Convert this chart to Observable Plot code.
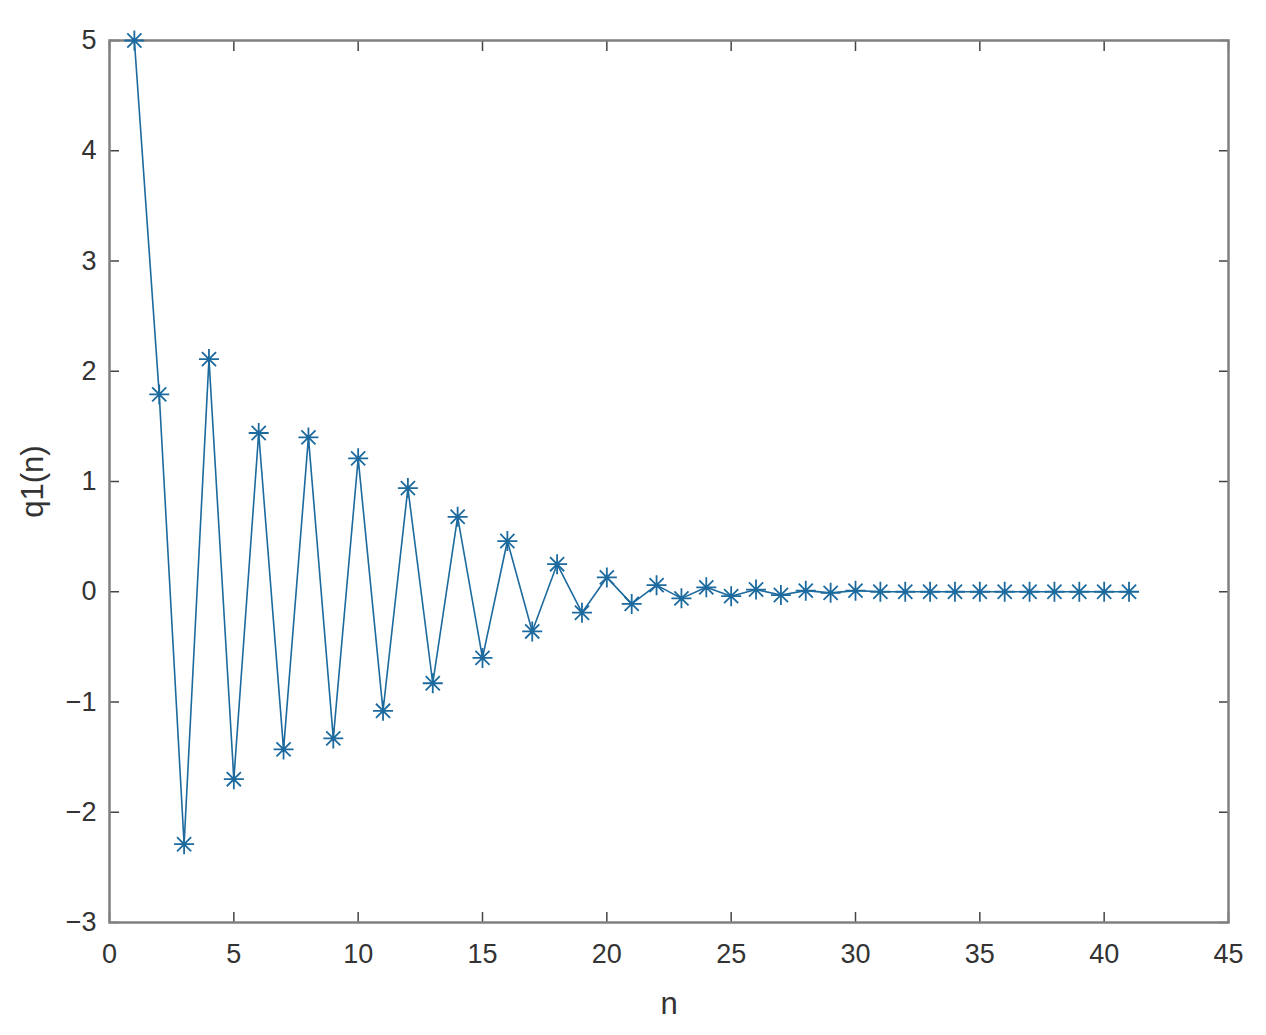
<!DOCTYPE html>
<html>
<head>
<meta charset="utf-8">
<script src="https://cdn.jsdelivr.net/npm/d3@7"></script>
<script src="https://cdn.jsdelivr.net/npm/@observablehq/plot@0.6"></script>
<style>
  html, body { margin: 0; padding: 0; background: #ffffff; }
  #chart svg { display: block; }
</style>
</head>
<body>
<div id="chart"></div>
<script>
// Data
const n = [1,2,3,4,5,6,7,8,9,10,11,12,13,14,15,16,17,18,19,20,21,22,23,24,25,26,27,28,29,30,31,32,33,34,35,36,37,38,39,40,41];
const q1 = [5.00, 1.79, -2.29, 2.11, -1.70, 1.44, -1.43, 1.40, -1.33, 1.21, -1.08, 0.94, -0.83, 0.68, -0.60, 0.46, -0.36, 0.25, -0.19, 0.13,
            -0.11, 0.06, -0.06, 0.04, -0.04, 0.02, -0.03, 0.01, -0.01, 0.01, 0.00, 0.00, 0.00, 0.00, 0.00, 0.00, 0.00, 0.00, 0.00, 0.00, 0.00];
const xTicks = [0, 5, 10, 15, 20, 25, 30, 35, 40, 45];
const yTicks = [-3, -2, -1, 0, 1, 2, 3, 4, 5];
const xLabel = "n";
const yLabel = "q1(n)";

const data = n.map((v, i) => ({n: v, q: q1[i]}));

// MATLAB-like 8-armed asterisk marker
const asterisk = {
  draw(context, size) {
    const r = Math.sqrt(size / Math.PI);
    const d = r / Math.SQRT2;
    context.moveTo(-r, 0); context.lineTo(r, 0);
    context.moveTo(0, -r); context.lineTo(0, r);
    context.moveTo(-d, -d); context.lineTo(d, d);
    context.moveTo(-d, d); context.lineTo(d, -d);
  }
};

const lineColor = "#1c6a9e";
const axisColor = "#808080";
const textColor = "#333333";
const fmt = d => d < 0 ? "\u2212" + Math.abs(d) : String(d);

const chart = Plot.plot({
  width: 1266,
  height: 1035,
  marginLeft: 109,
  marginRight: 38,
  marginTop: 40,
  marginBottom: 113,
  style: {fontFamily: "'Liberation Sans', Arial, sans-serif", fontSize: "27px", color: textColor, background: "#ffffff"},
  x: {domain: [0, 45]},
  y: {domain: [-3, 5]},
  marks: [
    Plot.axisX({anchor: "bottom", ticks: xTicks, tickSize: -10, fill: "none", stroke: "#444", strokeWidth: 1.5}),
    Plot.axisX({anchor: "top", ticks: xTicks, tickSize: -10, fill: "none", stroke: "#444", strokeWidth: 1.5}),
    Plot.axisY({anchor: "left", ticks: yTicks, tickSize: -10, fill: "none", stroke: "#444", strokeWidth: 1.5}),
    Plot.axisY({anchor: "right", ticks: yTicks, tickSize: -10, fill: "none", stroke: "#444", strokeWidth: 1.5}),
    Plot.axisX({anchor: "bottom", ticks: xTicks, tickSize: 0, stroke: "none", tickPadding: 21, label: null, fill: textColor, fontSize: 27, tickFormat: fmt}),
    Plot.axisY({anchor: "left", ticks: yTicks, tickSize: 0, stroke: "none", tickPadding: 13, label: null, fill: textColor, fontSize: 27, tickFormat: fmt}),
    Plot.frame({stroke: axisColor, strokeWidth: 2.5}),
    Plot.line(data, {x: "n", y: "q", stroke: lineColor, strokeWidth: 1.6}),
    Plot.dot(data, {x: "n", y: "q", symbol: asterisk, r: 10, fill: "none", stroke: lineColor, strokeWidth: 1.8}),
    Plot.text([xLabel], {frameAnchor: "bottom", text: d => d, dy: 82, lineAnchor: "middle", textAnchor: "middle", fontSize: 31, fill: textColor}),
    Plot.text([yLabel], {frameAnchor: "left", text: d => d, dx: -76, rotate: -90, lineAnchor: "middle", textAnchor: "middle", fontSize: 31, fill: textColor})
  ]
});

document.getElementById("chart").appendChild(chart);
</script>
</body>
</html>
